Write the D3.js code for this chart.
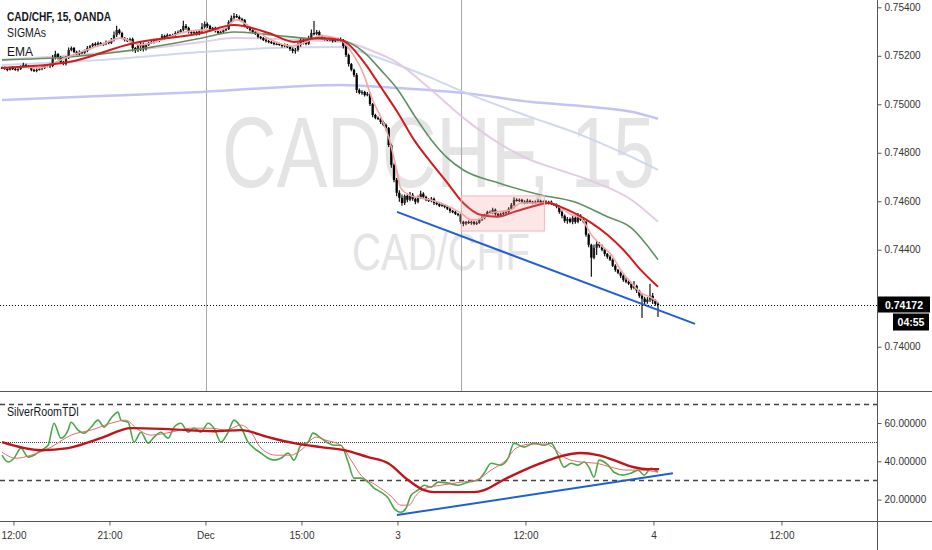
<!DOCTYPE html>
<html><head><meta charset="utf-8">
<script src="https://cdn.jsdelivr.net/npm/d3@7/dist/d3.min.js"></script>
<style>body{margin:0;background:#fff}svg{display:block;font-family:"Liberation Sans",Arial,sans-serif}</style>
</head><body><svg id="c" width="932" height="550"></svg>
<script>
// ---------- DATA ----------
const symbolTitle = "CAD/CHF, 15, OANDA";
const studyNames = ["SIGMAs", "EMA"];
const tdiName = "SilverRoomTDI";
const watermarkBig = "CADCHF, 15";
const watermarkSmall = "CAD/CHF";

// 15-min closes, in units of 0.00001
const open0 = 75152;
const closes = [
75150,75146,75142,75150,75146,75142,75146,75154,75162,75158,
75154,75142,75137,75142,75146,75150,75158,75162,75158,75191,
75207,75195,75174,75166,75191,75224,75232,75216,75207,75216,
75212,75220,75232,75240,75249,75245,75253,75245,75249,75257,
75253,75265,75286,75306,75294,75273,75265,75261,75269,75232,
75224,75240,75249,75228,75245,75253,75257,75265,75261,75269,
75282,75273,75286,75282,75286,75294,75298,75306,75323,75315,
75298,75294,75298,75290,75302,75319,75331,75323,75306,75315,
75302,75294,75298,75306,75310,75339,75356,75364,75360,75352,
75348,75323,75315,75306,75298,75290,75278,75273,75265,75261,
75257,75253,75249,75249,75245,75240,75245,75236,75228,75220,
75224,75245,75265,75257,75249,75273,75294,75290,75298,75282,
75273,75269,75265,75269,75261,75265,75269,75265,75240,75203,
75166,75142,75121,75059,75047,75051,75038,75043,75001,74956,
74944,74940,74927,74915,74902,74832,74750,74688,74635,74614,
74593,74622,74606,74626,74610,74598,74614,74631,74618,74606,
74602,74610,74593,74589,74581,74585,74577,74569,74560,74556,
74548,74544,74515,74507,74515,74511,74515,74507,74511,74523,
74532,74540,74556,74552,74565,74548,74540,74548,74552,74556,
74569,74585,74606,74602,74606,74598,74593,74602,74598,74593,
74598,74602,74593,74598,74593,74598,74589,74585,74577,74556,
74540,74519,74527,74515,74532,74515,74540,74523,74515,74462,
74420,74367,74408,74424,74416,74400,74383,74371,74359,74334,
74317,74305,74293,74276,74268,74260,74243,74251,74231,74210,
74198,74185,74194,74210,74190,74177,74172];
// wick extents above / below the body, units of 0.00001
const wickUp = [
4,6,3,5,8,4,3,6,9,5, 4,3,5,6,4,7,5,3,6,12, 14,5,4,6,8,10,6,4,5,7, 4,6,8,5,4,7,6,4,5,6,
5,8,14,18,6,5,4,7,5,6, 4,10,8,6,5,4,7,5,6,4, 8,5,6,4,5,7,6,5,22,8, 5,4,6,7,5,16,10,6,5,4,
5,6,4,7,5,8,10,12,8,6, 5,4,6,5,4,6,5,4,5,6, 4,5,6,4,5,3,6,4,5,6, 8,10,12,6,8,10,14,50,8,6,
5,6,4,5,6,7,5,6,4,5, 6,4,5,8,6,7,5,8,6,4, 5,6,4,5,6,4,5,6,8,10, 14,6,10,12,8,5,10,12,6,5,
6,8,5,4,6,5,4,6,5,4, 5,4,6,5,4,6,5,4,6,5, 6,8,5,6,8,5,4,6,5,4, 6,8,10,6,5,4,6,8,5,4,
5,6,4,5,6,4,5,4,6,5, 6,5,8,6,10,8,12,6,5,4, 6,5,14,12,8,6,5,4,6,5, 6,4,5,6,8,5,6,20,5,4,
6,8,10,50,12,6,5];
const wickDn = [
5,4,6,3,5,4,7,5,4,6, 5,6,4,5,3,6,4,5,8,5, 6,10,8,5,6,4,5,6,4,5, 6,4,5,6,4,5,6,5,4,6,
5,4,6,8,6,5,6,4,5,14, 12,8,20,10,6,5,4,6,5,4, 5,6,4,5,4,6,5,4,6,8, 6,5,4,6,5,4,6,8,5,4,
6,5,4,6,5,4,5,6,4,5, 6,5,4,6,5,4,6,5,4,6, 5,4,6,5,4,6,5,4,8,10, 12,6,8,10,6,5,4,6,5,4,
5,6,4,5,6,4,5,6,10,8, 10,6,8,12,6,8,6,5,8,10, 6,5,8,6,10,8,12,10,14,16, 12,8,10,6,8,10,6,5,8,6,
5,6,8,6,5,4,6,5,8,6, 5,6,8,10,6,5,8,6,5,4, 5,6,4,5,6,8,5,4,6,5, 4,5,6,4,5,6,5,4,6,5,
4,5,6,4,5,6,4,5,6,8, 10,8,12,6,10,8,6,5,6,8, 10,78,6,30,8,6,10,8,6,5, 8,6,10,8,6,5,8,6,10,8,
80,12,8,10,14,8,50];

// EMA lines: [bar index, price]
const emaPurple = [[0,0.75018],[37,0.75034],[75,0.75051],[127,0.75080],[148.5,0.75067],[173,0.75047],[198,0.75010],[225,0.74985],[236,0.74969],[246,0.74940]];
const emaBlue = [[0,0.75162],[37,0.75183],[75,0.75216],[101,0.75232],[127,0.75236],[138,0.75203],[148.5,0.75162],[161,0.75109],[173,0.75051],[198,0.74948],[217,0.74874],[236,0.74783],[246,0.74729]];
const emaLav = [[0,0.75183],[49.5,0.75224],[75,0.75257],[87,0.75273],[112,0.75265],[130,0.75253],[138,0.75224],[148.5,0.75170],[161,0.75059],[173,0.74944],[198,0.74771],[209,0.74729],[221,0.74684],[236,0.74606],[246,0.74515]];
const emaGreen = [[0,0.75183],[25,0.75195],[49.5,0.75224],[75,0.75273],[87,0.75298],[101,0.75286],[113,0.75273],[127,0.75265],[136,0.75212],[142,0.75142],[148.5,0.75059],[154.5,0.74956],[161,0.74853],[167,0.74779],[173,0.74729],[186,0.74676],[202,0.74626],[214.5,0.74598],[227,0.74536],[236,0.74490],[241.5,0.74424],[246,0.74359]];
const emaRed = [[0,0.75150],[25,0.75174],[49.5,0.75253],[75,0.75294],[87,0.75327],[100,0.75294],[109.5,0.75257],[118.5,0.75273],[127,0.75265],[136,0.75170],[142,0.75072],[148.5,0.74964],[154.5,0.74853],[161,0.74758],[167,0.74676],[173,0.74593],[179.5,0.74544],[186,0.74536],[192,0.74556],[198.5,0.74577],[205,0.74593],[209.5,0.74577],[214.5,0.74552],[221,0.74511],[227,0.74462],[233,0.74400],[239.5,0.74317],[246,0.74247]];
const emaPink = [[0,0.75150],[7,0.75154],[14.5,0.75150],[22,0.75183],[29.5,0.75216],[37,0.75245],[44.5,0.75273],[52,0.75245],[59.5,0.75265],[67,0.75294],[74.5,0.75306],[82,0.75306],[88,0.75348],[93.5,0.75315],[101,0.75265],[108.5,0.75240],[114,0.75257],[119.5,0.75282],[127,0.75265],[131,0.75216],[136,0.75113],[138.5,0.75030],[142,0.74948],[145,0.74865],[148,0.74729],[149.5,0.74655],[153.5,0.74622],[157,0.74614],[164.5,0.74593],[172,0.74552],[176,0.74523],[179.5,0.74527],[183.5,0.74552],[191,0.74565],[194.5,0.74593],[206,0.74593],[209.5,0.74573],[213.5,0.74544],[217,0.74532],[221,0.74462],[224.5,0.74420],[228.5,0.74379],[232,0.74317],[236,0.74264],[239.5,0.74223],[243.5,0.74202],[246,0.74185]];

// TDI lines: [bar index, value]
const tdiGreen = [[0,43.2],[2.3,39.6],[4.5,41.6],[7.1,46.9],[9.8,42.2],[12,43.2],[14.6,45.8],[17.3,48.4],[19.5,59.9],[22.1,52.1],[24.8,56.3],[25.9,60.4],[28.5,56.3],[30.8,54.7],[33.4,57.8],[36,61.5],[38.3,57.8],[40.9,62.5],[43.5,65.7],[44.6,61.5],[47.3,60.4],[49.5,50],[52.1,55.2],[54.8,49.5],[57,52.6],[59.6,55.2],[62.3,52.1],[64.5,57.8],[67.1,59.9],[69.8,55.2],[72,57.3],[74.6,55.2],[77.3,59.9],[79.5,57.3],[82.1,50],[84.8,55.2],[87,61.5],[89.6,57.8],[92.3,50],[94.5,46.9],[97.1,44.3],[99.8,41.6],[102,40.6],[104.6,41.6],[107.3,44.3],[109.5,40.6],[112.1,48.4],[114.8,50],[116.6,54.7],[119.6,52.1],[122.3,49.5],[124.5,48.4],[127.1,48.4],[129.8,39.6],[132,31.2],[134.6,31.2],[137.3,29.1],[139.5,26],[142.1,23.9],[144.8,20.8],[147,15.5],[149.6,13.4],[151.5,15.5],[153.4,22.3],[156,24.9],[158.3,27.5],[160.9,26.5],[163.5,29.1],[167.3,28.6],[171,27.5],[174.8,29.1],[178.5,30.2],[180.8,33.8],[183.4,39],[187.1,38],[189.8,41.6],[192,49.5],[195.8,47.4],[199.5,49.5],[203.3,48.4],[205.9,49.5],[208.5,43.2],[210.8,36.9],[213.4,39],[216,38],[218.3,39.6],[220.1,36.9],[222,31.7],[223.9,40.6],[227.3,38],[229.5,34.3],[232.9,32.8],[235.9,33.8],[238.5,35.4],[240.8,32.8],[243.4,36.4],[246,34.3]];
const tdiSignal = [[0,44.8],[5.3,41.6],[10.9,43.2],[18.4,47.4],[25.9,53.7],[33.4,56.3],[40.9,59.9],[46.5,61.5],[50.3,57.3],[55.9,53.7],[63.4,55.2],[70.9,57.3],[78.4,57.3],[84,56.3],[89.6,58.9],[93.4,55.2],[97.1,46.9],[102.8,43.2],[108.4,43.2],[112.1,45.8],[117.8,52.6],[121.5,51],[127.1,48.4],[130.9,40.6],[134.6,32.8],[140.3,27.5],[145.9,21.8],[149.6,17.1],[152.6,17.1],[155.3,22.3],[159,26],[164.6,27.5],[172.1,29.1],[177.8,30.2],[183.4,35.4],[189,40.6],[192.8,46.9],[198.4,49],[204,49],[207.8,45.8],[211.5,41.6],[217.1,39.6],[222.8,39],[228.4,36.9],[234,35.4],[239.6,35.4],[246,34.3]];
const tdiBase = [[0,50],[14.6,45.8],[24.8,46.9],[37.1,52.1],[48.4,57.3],[62.3,56.8],[79.5,55.7],[89.6,56.3],[99.8,52.6],[109.5,49.5],[119.6,47.4],[128.3,45.8],[137.3,42.2],[144.8,39],[152.3,30.2],[158.3,24.9],[162,23.9],[177,23.9],[180.8,24.9],[187.1,29.6],[195.8,35.4],[202.1,39],[208.5,42.2],[217.1,44.3],[223.5,43.2],[229.5,40.6],[237,36.9],[242.3,35.9],[246.4,35.9]];
const tdiLevels = [70, 50, 30];

// drawings
const trendMain = [[148.1,0.74556],[259.9,0.74094]];
const trendTdi = [[148.1,11.9],[251.6,33.8]];
const zoneBox = {i0:172.2, i1:203.4, p0:0.74622, p1:0.74477};
const sessionBreaks = [76.4, 172.2];

// axes
const priceTicks = [0.754,0.752,0.750,0.748,0.746,0.744,0.742,0.740];
const tdiTicks = [60,40,20];
const timeTicks = [4.3,40.3,76.3,112.3,148.3,196.3,244.3,292.3];
const timeLabels = ["12:00","21:00","Dec","15:00","3","12:00","4","12:00"];
const lastPrice = 0.74172;
const countdown = "04:55";

// ---------- CHART ----------
const svg = d3.select('#c');
const AX = 877, MAIN_B = 391, TDI_B = 521;
const x = d3.scaleLinear().domain([0,246]).range([2,658]);
const yP = d3.scaleLinear().domain([0.740,0.754]).range([346.7,7.3]);
const yT = d3.scaleLinear().domain([20,60]).range([499.6,423]);

const defs = svg.append('defs');
defs.append('clipPath').attr('id','cm').append('rect').attr('x',0).attr('y',0).attr('width',AX).attr('height',MAIN_B);
defs.append('clipPath').attr('id','ct').append('rect').attr('x',0).attr('y',MAIN_B+1).attr('width',AX).attr('height',TDI_B-MAIN_B-1);

const gm = svg.append('g').attr('clip-path','url(#cm)');
const gt = svg.append('g').attr('clip-path','url(#ct)');

// watermark
gm.append('text').attr('x',222).attr('y',187).attr('font-size',100)
  .attr('textLength',433).attr('lengthAdjust','spacingAndGlyphs')
  .attr('fill','#e4e4e4').text(watermarkBig);
gm.append('text').attr('x',352).attr('y',270).attr('font-size',52)
  .attr('textLength',178).attr('lengthAdjust','spacingAndGlyphs')
  .attr('fill','#e4e4e4').text(watermarkSmall);

// session breaks
gm.selectAll('line.sb').data(sessionBreaks).join('line')
  .attr('x1',d=>Math.round(x(d))+0.5).attr('x2',d=>Math.round(x(d))+0.5)
  .attr('y1',0).attr('y2',MAIN_B).attr('stroke','#a8a8a8').attr('stroke-width',1);

// EMA lines (slow first)
const lineP = d3.line().x(d=>x(d[0])).y(d=>yP(d[1])).curve(d3.curveMonotoneX);
[[emaPurple,'#bdbdf3',2.5,0.9],[emaBlue,'#c9d5ec',2,0.9],[emaLav,'#e2c6e2',2,0.9]]
 .forEach(([d,c,w,o])=>gm.append('path').attr('d',lineP(d)).attr('fill','none')
  .attr('stroke',c).attr('stroke-width',w).attr('stroke-opacity',o));

// candles
const candles = closes.map((c,i)=>{
  const o = i===0 ? open0 : closes[i-1];
  return {i, o:o/1e5, c:c/1e5, h:(Math.max(o,c)+wickUp[i])/1e5, l:(Math.min(o,c)-wickDn[i])/1e5};
});
const gc = gm.append('g');
gc.selectAll('line').data(candles).join('line')
  .attr('x1',d=>x(d.i)).attr('x2',d=>x(d.i)).attr('y1',d=>yP(d.h)).attr('y2',d=>yP(d.l))
  .attr('stroke','#000').attr('stroke-width',1.1);
gc.selectAll('rect').data(candles).join('rect')
  .attr('x',d=>x(d.i)-1.15).attr('width',2.3)
  .attr('y',d=>yP(Math.max(d.o,d.c)))
  .attr('height',d=>Math.max(1.2, yP(Math.min(d.o,d.c))-yP(Math.max(d.o,d.c))))
  .attr('fill',d=>d.c>=d.o ? '#222' : '#000');

// faster EMAs on top
[[emaGreen,'#5f9160',1.6],[emaPink,'#f4a6a6',1.6],[emaRed,'#d01c1f',2]]
 .forEach(([d,c,w])=>gm.append('path').attr('d',lineP(d)).attr('fill','none').attr('stroke',c).attr('stroke-width',w));

// zone rectangle
gm.append('rect').attr('x',x(zoneBox.i0)).attr('width',x(zoneBox.i1)-x(zoneBox.i0))
  .attr('y',yP(zoneBox.p0)).attr('height',yP(zoneBox.p1)-yP(zoneBox.p0))
  .attr('fill','#f08c8c').attr('fill-opacity',0.22).attr('stroke','#f3b9b9').attr('stroke-width',1);

// trend line
const lineRaw = d3.line().x(d=>x(d[0])).y(d=>yP(d[1]));
gm.append('path').attr('d',lineRaw(trendMain)).attr('stroke','#1e5fd4').attr('stroke-width',2).attr('fill','none');

// last price line
gm.append('line').attr('x1',0).attr('x2',AX).attr('y1',Math.round(yP(lastPrice))+0.5).attr('y2',Math.round(yP(lastPrice))+0.5)
  .attr('stroke','#000').attr('stroke-width',1).attr('stroke-dasharray','1,2');

// legends
const leg = svg.append('g').attr('fill','#131722').attr('font-size',13);
leg.append('text').attr('x',7).attr('y',20.5).attr('font-weight','bold')
  .attr('textLength',104).attr('lengthAdjust','spacingAndGlyphs').text(symbolTitle);
leg.selectAll('text.s').data(studyNames).join('text').attr('class','s')
  .attr('x',7).attr('y',(d,i)=>37+i*18.5)
  .attr('textLength',(d,i)=>[39,26][i]).attr('lengthAdjust','spacingAndGlyphs').text(d=>d);
leg.append('text').attr('x',7).attr('y',415.5)
  .attr('textLength',72).attr('lengthAdjust','spacingAndGlyphs').text(tdiName);

// TDI levels
gt.selectAll('line.lv').data(tdiLevels).join('line')
  .attr('x1',0).attr('x2',AX).attr('y1',d=>Math.round(yT(d))+0.5).attr('y2',d=>Math.round(yT(d))+0.5)
  .attr('stroke','#444').attr('stroke-width',d=>d===50?1:1.5)
  .attr('stroke-dasharray',d=>d===50?'1,1':'5,4');

const lineT = d3.line().x(d=>x(d[0])).y(d=>yT(d[1])).curve(d3.curveMonotoneX);
gt.append('path').attr('d',lineT(tdiGreen)).attr('fill','none').attr('stroke','#4aa84a').attr('stroke-width',1.6);
gt.append('path').attr('d',lineT(tdiSignal)).attr('fill','none').attr('stroke','#e46a6a').attr('stroke-width',1);
gt.append('path').attr('d',lineT(tdiBase)).attr('fill','none').attr('stroke','#c0141a').attr('stroke-width',2.4);
gt.append('path').attr('d',d3.line().x(d=>x(d[0])).y(d=>yT(d[1]))(trendTdi)).attr('stroke','#1e5fd4').attr('stroke-width',2).attr('fill','none');

// frame lines
svg.append('line').attr('x1',AX+0.5).attr('x2',AX+0.5).attr('y1',0).attr('y2',550).attr('stroke','#555');
svg.append('line').attr('x1',0).attr('x2',932).attr('y1',MAIN_B+0.5).attr('y2',MAIN_B+0.5).attr('stroke','#555');
svg.append('line').attr('x1',0).attr('x2',932).attr('y1',TDI_B+0.5).attr('y2',TDI_B+0.5).attr('stroke','#555');

// axes
function styleAxis(g){ g.select('.domain').remove(); g.selectAll('line').attr('stroke','#555');
  g.selectAll('text').attr('fill','#333').attr('font-size',10).attr('font-family','"Liberation Sans",Arial,sans-serif'); }
const yl = yP(lastPrice);
// the label hidden under the last-price tag is left blank
svg.append('g').attr('transform',`translate(${AX+0.5},0)`)
  .call(d3.axisRight(yP).tickValues(priceTicks).tickSize(4).tickPadding(3)
    .tickFormat(d=>Math.abs(yP(d)-yl)<12 ? '' : d3.format('.5f')(d))).call(styleAxis);
svg.append('g').attr('transform',`translate(${AX+0.5},0)`)
  .call(d3.axisRight(yT).tickValues(tdiTicks).tickSize(4).tickPadding(3).tickFormat(d3.format('.5f'))).call(styleAxis);
svg.append('g').attr('transform',`translate(0,${TDI_B+0.5})`)
  .call(d3.axisBottom(x).tickValues(timeTicks).tickSize(4).tickPadding(6).tickFormat((d,i)=>timeLabels[i])).call(styleAxis);

// last price tag and countdown
svg.append('rect').attr('x',AX+1).attr('y',yl-8.5).attr('width',52).attr('height',16).attr('fill','#000');
svg.append('text').attr('x',AX+27).attr('y',yl+3.5).attr('text-anchor','middle').attr('fill','#fff')
  .attr('font-size',10.5).attr('font-weight','bold').text(d3.format('.5f')(lastPrice));
svg.append('rect').attr('x',893).attr('y',yl+8.5).attr('width',36).attr('height',17).attr('fill','#000');
svg.append('text').attr('x',911).attr('y',yl+20.5).attr('text-anchor','middle').attr('fill','#fff')
  .attr('font-size',10.5).attr('font-weight','bold').text(countdown);
</script></body></html>
